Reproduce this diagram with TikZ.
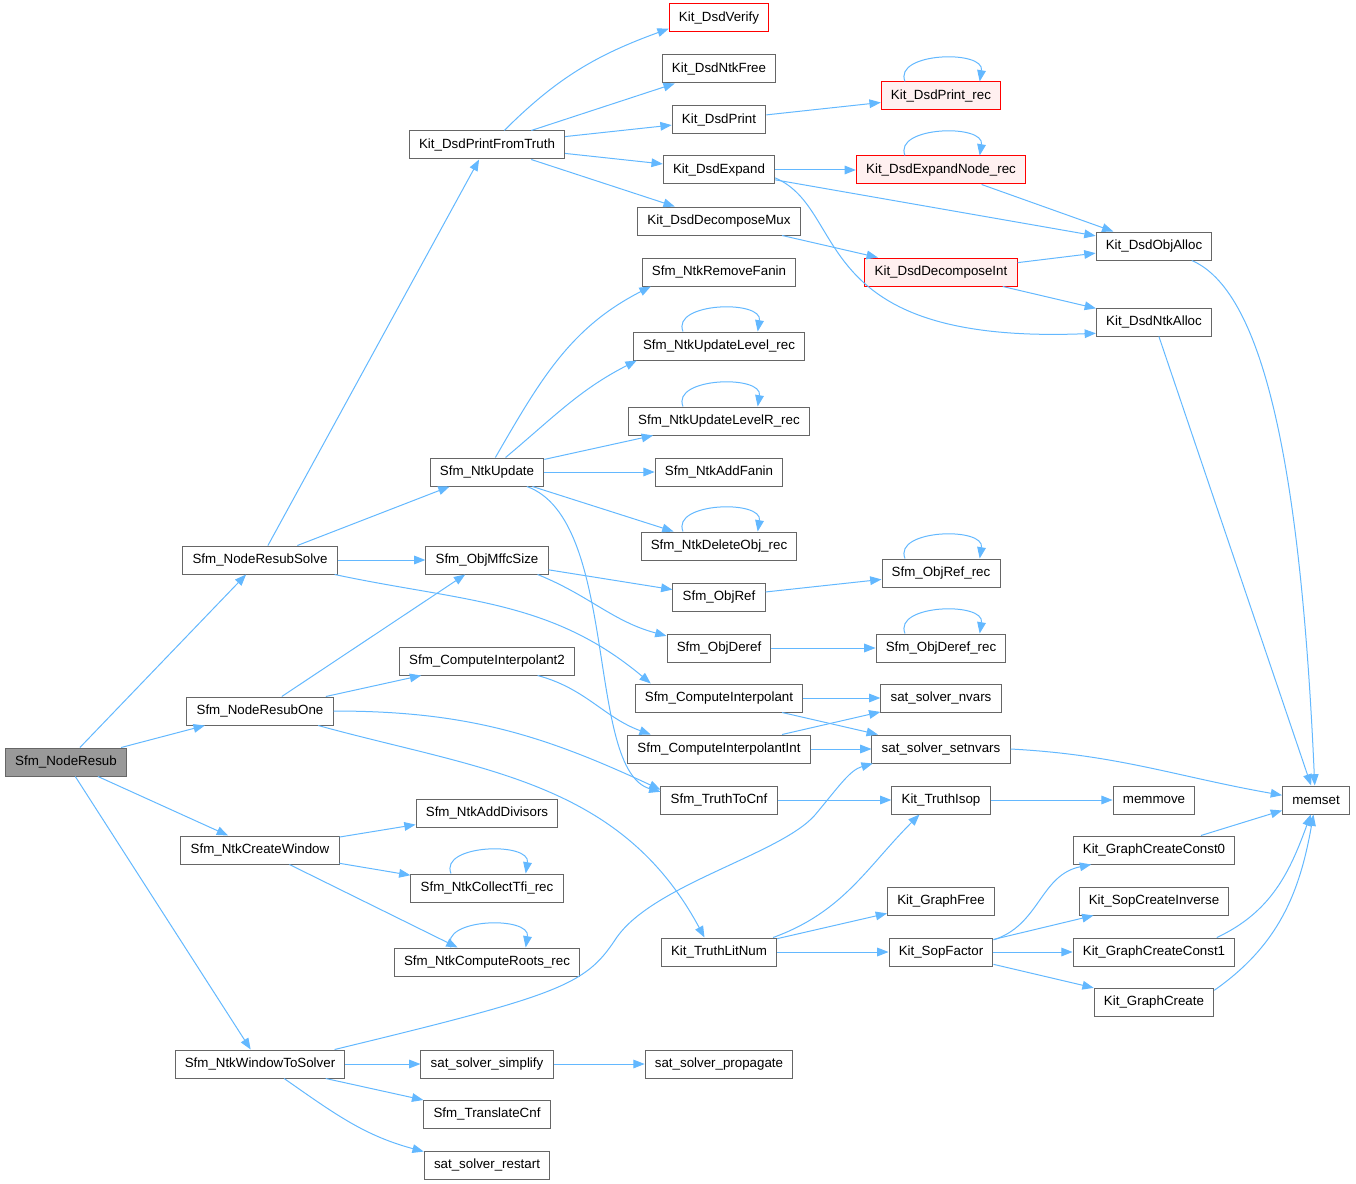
\documentclass[tikz,border=0pt]{standalone}
\usepackage{fontspec}
\setmainfont{Liberation Sans}
\usetikzlibrary{arrows.meta}
\definecolor{callblue}{HTML}{63B8FF}
\definecolor{boxgray}{HTML}{666666}
\definecolor{truncred}{HTML}{FF0000}
\definecolor{truncfill}{HTML}{FFF0F0}
\definecolor{rootfill}{HTML}{999999}
\tikzset{
    func/.style={rectangle, draw=boxgray, fill=white, line width=0.75pt,
        minimum height=21pt, inner xsep=7.3pt, inner ysep=2pt,
        font=\fontsize{10}{12}\selectfont},
    trunc/.style={func, draw=truncred, fill=truncfill},
    root/.style={func, fill=rootfill},
    call/.style={draw=callblue, line width=0.75pt,
        -{Triangle[length=8.5pt,width=6.5pt]}},
    selfcall/.style={to path={([xshift=-27pt]\tikztostart.north)
        .. controls +(-9pt,22pt) and +(4pt,24pt) .. ([xshift=29pt]\tikztostart.north)}}}

\begin{document}
\begin{tikzpicture}[x=0.75pt, y=0.75pt]
    \useasboundingbox (0,0) rectangle (1356,-1184);
    % columns of functions
    \node[root] (nr) at (66,-762) {Sfm\_NodeResub};
    \node[func] (nrs) at (260,-560) {Sfm\_NodeResubSolve};
    \node[func] (nro) at (260,-711) {Sfm\_NodeResubOne};
    \node[func] (ncw) at (260,-850) {Sfm\_NtkCreateWindow};
    \node[func] (nws) at (260,-1064) {Sfm\_NtkWindowToSolver};

    \node[func] (dpft) at (487,-145) {Kit\_DsdPrintFromTruth};
    \node[func] (nu) at (487,-472) {Sfm\_NtkUpdate};
    \node[func] (mffc) at (487,-560) {Sfm\_ObjMffcSize};
    \node[func] (ci2) at (487,-661) {Sfm\_ComputeInterpolant2};
    \node[func] (nad) at (487,-813) {Sfm\_NtkAddDivisors};
    \node[func] (tfi) at (487,-888) {Sfm\_NtkCollectTfi\_rec};
    \node[func] (roots) at (487,-962) {Sfm\_NtkComputeRoots\_rec};
    \node[func] (simp) at (487,-1064) {sat\_solver\_simplify};
    \node[func] (tcnf) at (487,-1114) {Sfm\_TranslateCnf};
    \node[func] (rest) at (487,-1165) {sat\_solver\_restart};

    \node[func, draw=truncred] (verify) at (719,-18) {Kit\_DsdVerify};
    \node[func] (ntkfree) at (719,-69) {Kit\_DsdNtkFree};
    \node[func] (dprint) at (719,-120) {Kit\_DsdPrint};
    \node[func] (expand) at (719,-170) {Kit\_DsdExpand};
    \node[func] (mux) at (719,-221) {Kit\_DsdDecomposeMux};
    \node[func] (remfan) at (719,-272) {Sfm\_NtkRemoveFanin};
    \node[func] (ulev) at (719,-346) {Sfm\_NtkUpdateLevel\_rec};
    \node[func] (ulevr) at (719,-421) {Sfm\_NtkUpdateLevelR\_rec};
    \node[func] (addfan) at (719,-472) {Sfm\_NtkAddFanin};
    \node[func] (delobj) at (719,-546) {Sfm\_NtkDeleteObj\_rec};
    \node[func] (ref) at (719,-597) {Sfm\_ObjRef};
    \node[func] (deref) at (719,-648) {Sfm\_ObjDeref};
    \node[func] (ci) at (719,-698) {Sfm\_ComputeInterpolant};
    \node[func] (cii) at (719,-749) {Sfm\_ComputeInterpolantInt};
    \node[func] (t2cnf) at (719,-800) {Sfm\_TruthToCnf};
    \node[func] (litnum) at (719,-952) {Kit\_TruthLitNum};
    \node[func] (prop) at (719,-1064) {sat\_solver\_propagate};

    \node[trunc] (printrec) at (941,-96) {Kit\_DsdPrint\_rec};
    \node[trunc] (exprec) at (941,-170) {Kit\_DsdExpandNode\_rec};
    \node[trunc] (decint) at (941,-272) {Kit\_DsdDecomposeInt};
    \node[func] (refrec) at (941,-573) {Sfm\_ObjRef\_rec};
    \node[func] (derefrec) at (941,-648) {Sfm\_ObjDeref\_rec};
    \node[func] (nvars) at (941,-698) {sat\_solver\_nvars};
    \node[func] (setnvars) at (941,-749) {sat\_solver\_setnvars};
    \node[func] (isop) at (941,-800) {Kit\_TruthIsop};
    \node[func] (gfree) at (941,-901) {Kit\_GraphFree};
    \node[func] (sopf) at (941,-952) {Kit\_SopFactor};

    \node[func] (objalloc) at (1154,-246) {Kit\_DsdObjAlloc};
    \node[func] (ntkalloc) at (1154,-322) {Kit\_DsdNtkAlloc};
    \node[func] (memmove) at (1154,-800) {memmove};
    \node[func] (gc0) at (1154,-850) {Kit\_GraphCreateConst0};
    \node[func] (inv) at (1154,-901) {Kit\_SopCreateInverse};
    \node[func] (gc1) at (1154,-952) {Kit\_GraphCreateConst1};
    \node[func] (gcr) at (1154,-1002) {Kit\_GraphCreate};
    \node[func] (memset) at (1316,-800) {memset};

    % calls
    \draw[call] (nr) -- (nrs);
    \draw[call] (nr) -- (nro);
    \draw[call] (nr) -- (ncw);
    \draw[call] (nr) -- (nws);

    \draw[call] (nrs) -- (dpft);
    \draw[call] (nrs) -- (nu);
    \draw[call] (nrs) -- (mffc);
    \draw[call] (nrs.-11) to[out=-12, in=140] (ci.168);

    \draw[call] (nro) -- (mffc);
    \draw[call] (nro) -- (ci2);
    \draw[call] (nro.east) to[out=0, in=155] (t2cnf.170);
    \draw[call] (nro.-14) .. controls (480,-770) and (620,-780) .. (litnum.135);

    \draw[call] (ncw) -- (nad);
    \draw[call] (ncw) -- (tfi);
    \draw[call] (ncw) -- (roots);

    \draw[call] (nws.11) .. controls (560,-995) and (585,-985) .. (615,-940)
        .. controls (650,-885) and (780,-855) .. (815,-815)
        .. controls (840,-785) and (850,-770) .. (setnvars.192);
    \draw[call] (nws) -- (simp);
    \draw[call] (nws) -- (tcnf);
    \draw[call] (nws.-31) to[out=-35, in=165] (rest.168);
    \draw[call] (simp) -- (prop);

    \draw[call] (dpft.40) to[out=45, in=200] (verify.192);
    \draw[call] (dpft) -- (ntkfree);
    \draw[call] (dpft) -- (dprint);
    \draw[call] (dpft) -- (expand);
    \draw[call] (dpft) -- (mux);

    \draw[call] (dprint) -- (printrec);
    \draw[call] (expand) -- (exprec);
    \draw[call] (expand) -- (objalloc);
    \draw[call] (expand.-8) .. controls (850,-210) and (805,-345) .. (ntkalloc.191);
    \draw[call] (mux) -- (decint);
    \draw[call] (exprec) -- (objalloc);
    \draw[call] (decint) -- (objalloc);
    \draw[call] (decint) -- (ntkalloc);
    \draw[call] (objalloc.-21) .. controls (1260,-290) and (1300,-450) .. (memset.95);
    \draw[call] (ntkalloc) -- (memset);

    \draw[call] (nu.60) to[out=60, in=207] (remfan.192);
    \draw[call] (nu.38) to[out=40, in=207] (ulev.190);
    \draw[call] (nu) -- (ulevr);
    \draw[call] (nu) -- (addfan);
    \draw[call] (nu) -- (delobj);
    \draw[call] (nu.-20) .. controls (620,-520) and (585,-770) .. (t2cnf.172);

    \draw[call] (mffc) -- (ref);
    \draw[call] (mffc.-16) to[out=-22, in=165] (deref.167);
    \draw[call] (ref) -- (refrec);
    \draw[call] (deref) -- (derefrec);
    \draw[call] (ci2.-16) to[out=-15, in=160] (cii.168);

    \draw[call] (ci) -- (nvars);
    \draw[call] (ci) -- (setnvars);
    \draw[call] (cii) -- (nvars);
    \draw[call] (cii) -- (setnvars);
    \draw[call] (setnvars.east) to[out=-3, in=170] (memset.172);

    \draw[call] (t2cnf) -- (isop);
    \draw[call] (isop) -- (memmove);
    \draw[call] (litnum.15) to[out=20, in=225] (isop.214);
    \draw[call] (litnum) -- (gfree);
    \draw[call] (litnum) -- (sopf);

    \draw[call] (sopf.13) .. controls (1040,-925) and (1040,-875) .. (gc0.193);
    \draw[call] (sopf) -- (inv);
    \draw[call] (sopf) -- (gc1);
    \draw[call] (sopf) -- (gcr);
    \draw[call] (gc0) -- (memset);
    \draw[call] (gc1.13) to[out=25, in=250] (memset.250);
    \draw[call] (gcr.11) to[out=35, in=260] (memset.260);

    % recursive calls
    \foreach \f in {printrec, exprec, ulev, ulevr, delobj, refrec, derefrec, tfi, roots}
        \draw[call] (\f) to[selfcall] (\f);
\end{tikzpicture}
\end{document}
